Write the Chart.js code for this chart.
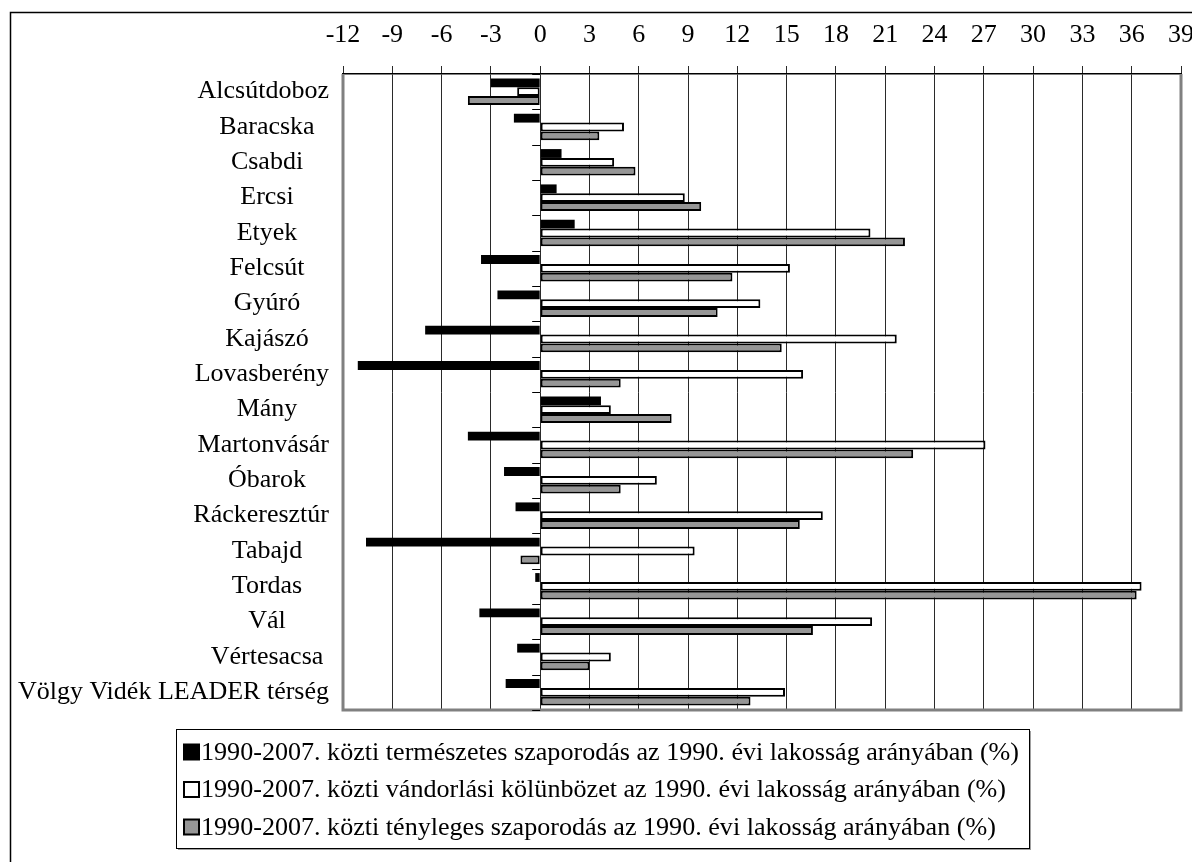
<!DOCTYPE html>
<html>
<head>
<meta charset="utf-8">
<script src="https://cdn.jsdelivr.net/npm/chart.js@4/dist/chart.umd.min.js"></script>
<style>
  body { margin: 0; background: #fff; }
  canvas { display: block; }
</style>
</head>
<body>
<canvas id="popChart" width="1192" height="862"></canvas>
<script>
// --- data ---
const categories = [
  'Alcsútdoboz', 'Baracska', 'Csabdi', 'Ercsi', 'Etyek', 'Felcsút', 'Gyúró',
  'Kajászó', 'Lovasberény', 'Mány', 'Martonvásár', 'Óbarok', 'Ráckeresztúr',
  'Tabajd', 'Tordas', 'Vál', 'Vértesacsa', 'Völgy Vidék LEADER térség'
];
const naturalGrowth = [-3.0, -1.6, 1.3, 1.0, 2.1, -3.6, -2.6, -7.0, -11.1, 3.7, -4.4, -2.2, -1.5, -10.6, -0.3, -3.7, -1.4, -2.1];
const migration     = [-1.4, 5.1, 4.5, 8.8, 20.1, 15.2, 13.4, 21.7, 16.0, 4.3, 27.1, 7.1, 17.2, 9.4, 36.6, 20.2, 4.3, 14.9];
const actualGrowth  = [-4.4, 3.6, 5.8, 9.8, 22.2, 11.7, 10.8, 14.7, 4.9, 8.0, 22.7, 4.9, 15.8, -1.2, 36.3, 16.6, 3.0, 12.8];
const seriesLabels = [
  '1990-2007. közti természetes szaporodás az 1990. évi lakosság arányában (%)',
  '1990-2007. közti vándorlási kölünbözet az 1990. évi lakosság arányában (%)',
  '1990-2007. közti tényleges szaporodás az 1990. évi lakosság arányában (%)'
];
const xMin = -12, xMax = 39, xStep = 3;

const FONT = '"Liberation Serif", "Times New Roman", serif';
const FONT_SIZE = 26;

// frame, category labels, zero-line ticks and the boxed legend
const decorPlugin = {
  id: 'decor',
  afterDraw(chart) {
    const ctx = chart.ctx;
    const area = chart.chartArea;
    const xs = chart.scales.x, ys = chart.scales.y;
    ctx.save();

    // outer border (top + left only, picture is cropped)
    ctx.strokeStyle = '#000';
    ctx.lineWidth = 1.5;
    ctx.beginPath();
    ctx.moveTo(10.5, 862); ctx.lineTo(10.5, 12.5); ctx.lineTo(1192, 12.5);
    ctx.stroke();

    // plot frame (grey)
    ctx.strokeStyle = '#808080';
    ctx.lineWidth = 3;
    ctx.beginPath();
    ctx.moveTo(area.left, area.top); ctx.lineTo(area.left, area.bottom);
    ctx.lineTo(area.right, area.bottom); ctx.lineTo(area.right, area.top);
    ctx.stroke();

    // category ticks on the zero line
    const x0 = xs.getPixelForValue(0);
    ctx.strokeStyle = '#000';
    ctx.lineWidth = 1;
    for (let i = 0; i <= categories.length; i++) {
      const y = Math.round(ys.getPixelForValue(i - 0.5)) + 0.5;
      ctx.beginPath(); ctx.moveTo(x0 - 8, y); ctx.lineTo(x0, y); ctx.stroke();
    }

    // category labels, centred but kept left of the plot
    ctx.font = FONT_SIZE + 'px ' + FONT;
    ctx.fillStyle = '#000';
    ctx.textAlign = 'right';
    ctx.textBaseline = 'middle';
    categories.forEach((c, i) => {
      const w = ctx.measureText(c).width;
      const right = Math.min(329, 267 + w / 2);
      ctx.fillText(c, right, ys.getPixelForValue(i));
    });

    // legend box
    const box = { left: 176, top: 729, right: 1029, bottom: 848 };
    ctx.fillStyle = '#a0a0a0';
    ctx.fillRect(box.left + 2, box.bottom, box.right - box.left, 2);
    ctx.fillRect(box.right, box.top + 2, 2, box.bottom - box.top);
    ctx.strokeStyle = '#000';
    ctx.lineWidth = 1;
    ctx.strokeRect(box.left + 0.5, box.top + 0.5, box.right - box.left, box.bottom - box.top);
    ctx.textAlign = 'left';
    ctx.font = '26.1px ' + FONT;
    chart.data.datasets.forEach((ds, i) => {
      const cy = 752 + i * 37.5;
      ctx.fillStyle = ds.backgroundColor;
      ctx.fillRect(184, cy - 7.5, 15, 15);
      ctx.strokeStyle = '#000';
      ctx.lineWidth = 2;
      ctx.strokeRect(184, cy - 7.5, 15, 15);
      ctx.fillStyle = '#000';
      ctx.fillText(ds.label, 201, cy + 1);
    });

    ctx.restore();
  }
};

new Chart(document.getElementById('popChart'), {
  type: 'bar',
  data: {
    labels: categories,
    datasets: [
      { label: seriesLabels[0], data: naturalGrowth, backgroundColor: '#000000', borderWidth: 0 },
      { label: seriesLabels[1], data: migration, backgroundColor: '#ffffff', borderWidth: 2 },
      { label: seriesLabels[2], data: actualGrowth, backgroundColor: '#969696', borderWidth: 2 }
    ].map(d => Object.assign(d, {
      borderColor: '#000', borderSkipped: false,
      categoryPercentage: 0.75, barPercentage: 1.0
    }))
  },
  options: {
    indexAxis: 'y',
    responsive: false,
    animation: false,
    layout: { padding: { left: 0, right: 11, top: 0, bottom: 152 } },
    plugins: { legend: { display: false }, tooltip: { enabled: false } },
    scales: {
      x: {
        position: 'top',
        min: xMin, max: xMax,
        ticks: {
          stepSize: xStep, autoSkip: false, maxRotation: 0, padding: 15,
          color: '#000', font: { family: FONT, size: FONT_SIZE }
        },
        grid: { color: '#2a2a2a', lineWidth: 1, tickLength: 8, drawTicks: true },
        border: { color: '#000', width: 1.5 },
        afterFit(s) { s.height = 74; s.paddingLeft = 0; s.paddingRight = 0; }
      },
      y: {
        ticks: { display: false },
        grid: { display: false },
        border: { display: false },
        afterFit(s) { s.width = 343; }
      }
    }
  },
  plugins: [decorPlugin]
});
</script>
</body>
</html>
